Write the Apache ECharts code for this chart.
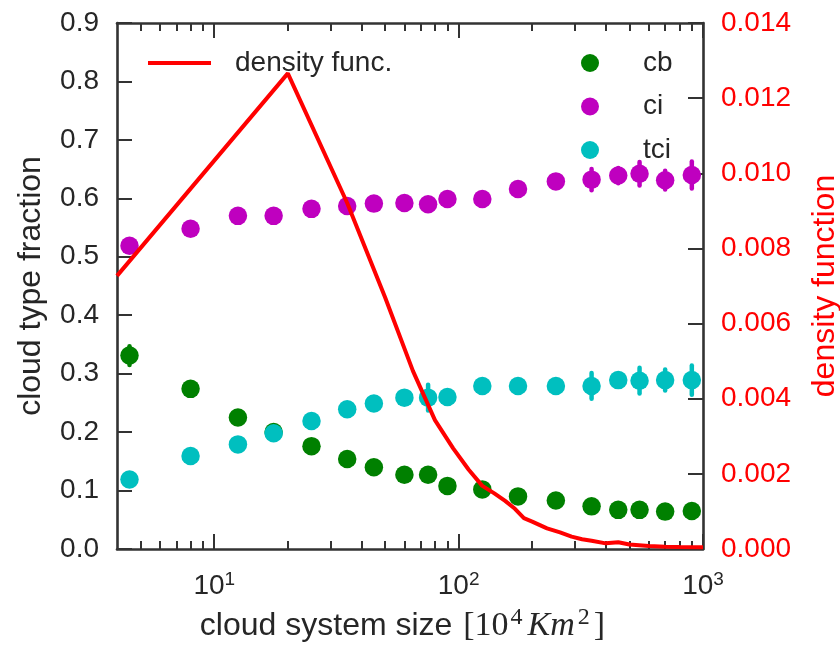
<!DOCTYPE html>
<html>
<head>
<meta charset="utf-8">
<script src="https://cdn.jsdelivr.net/npm/echarts@6/dist/echarts.min.js"></script>
<style>html,body{margin:0;padding:0;background:#fff;}#c{width:840px;height:645px;}</style>
</head>
<body>
<div id="c"></div>
<script>
// ---- data ----
const sizes = [4.5, 8, 12.5, 17.5, 25, 35, 45, 60, 75, 90, 125, 175, 250, 350, 450, 550, 700, 900];
const cb  = [0.331, 0.274, 0.225, 0.200, 0.176, 0.154, 0.140, 0.127, 0.127, 0.108, 0.102, 0.090, 0.083, 0.073, 0.067, 0.067, 0.064, 0.065];
const ci  = [0.519, 0.548, 0.570, 0.570, 0.582, 0.587, 0.591, 0.592, 0.590, 0.599, 0.599, 0.616, 0.629, 0.632, 0.639, 0.642, 0.631, 0.640];
const tci = [0.119, 0.159, 0.179, 0.198, 0.219, 0.239, 0.249, 0.259, 0.259, 0.260, 0.279, 0.279, 0.279, 0.279, 0.289, 0.288, 0.289, 0.289];
const cbErr  = [0.016, 0.008, 0.008, 0.008, 0.008, 0.008, 0.008, 0.008, 0.008, 0.008, 0.008, 0.008, 0.008, 0.008, 0.008, 0.008, 0.008, 0.008];
const ciErr  = [0.008, 0.008, 0.008, 0.008, 0.008, 0.008, 0.008, 0.008, 0.008, 0.008, 0.008, 0.008, 0.008, 0.018, 0.013, 0.020, 0.016, 0.023];
const tciErr = [0.008, 0.008, 0.008, 0.008, 0.008, 0.008, 0.008, 0.008, 0.022, 0.008, 0.008, 0.008, 0.008, 0.022, 0.011, 0.022, 0.018, 0.025];
const densX = [4, 20, 35, 50, 65, 80, 95, 110, 125, 140, 155, 170, 185, 200, 230, 260, 290, 320, 350, 400, 450, 500, 600, 700, 800, 1000];
const densY = [0.00727, 0.01266, 0.00921, 0.00670, 0.00474, 0.00343, 0.00268, 0.00211, 0.00168, 0.00148, 0.00128, 0.00107, 0.00082, 0.00073, 0.00055, 0.00044, 0.00033, 0.00026, 0.00022, 0.00015, 0.00018, 0.00012, 0.00008, 0.00006, 0.00005, 0.000045];
const majorTicks = [10, 100, 1000];
const minorTicks = [5, 6, 7, 8, 9, 20, 30, 40, 50, 60, 70, 80, 90, 200, 300, 400, 500, 600, 700, 800, 900];
const leftTicks = [0, 0.1, 0.2, 0.3, 0.4, 0.5, 0.6, 0.7, 0.8, 0.9];
const rightTicks = [0, 0.002, 0.004, 0.006, 0.008, 0.010, 0.012, 0.014];

// ---- styles ----
const SANS = "'Liberation Sans', Arial, sans-serif";
const SERIF = "'Liberation Serif', 'DejaVu Serif', serif";
const TXT = '#262626';
const SPINE = '#333333';
const C_CB = '#008000', C_CI = '#bf00bf', C_TCI = '#00bfbf', C_RED = '#ff0000';

const chart = echarts.init(document.getElementById('c'), null, {renderer: 'canvas'});

function pts(ys) { return sizes.map((x, i) => [x, ys[i]]); }
function errPts(ys, es) { return sizes.map((x, i) => [x, ys[i], es[i]]); }

function errSeries(name, ys, es, color) {
  return {
    name: name, type: 'custom', xAxisIndex: 0, yAxisIndex: 0, z: 2,
    data: errPts(ys, es), encode: {x: 0, y: 1}, silent: true, clip: true,
    renderItem: function (params, api) {
      const x = api.value(0), y = api.value(1), e = api.value(2);
      const p1 = api.coord([x, y + e]);
      const p2 = api.coord([x, y - e]);
      return {type: 'line', shape: {x1: p1[0], y1: p1[1], x2: p2[0], y2: p2[1]},
              style: {stroke: color, lineWidth: 4.5, lineCap: 'round'}};
    }
  };
}

function xAxisBase(pos, ticks, len, showLine, showLabel) {
  return {
    type: 'log', logBase: 10, min: 4, max: 1000, position: pos, gridIndex: 0,
    axisLine: {show: showLine, onZero: false, lineStyle: {color: SPINE, width: 2.6}},
    axisTick: {show: true, inside: true, length: len, customValues: ticks, lineStyle: {color: SPINE, width: 2}},
    axisLabel: showLabel ? {
      show: true, margin: 21, customValues: majorTicks,
      formatter: function (v) { return '{b|10}{s|' + Math.round(Math.log10(v)) + '}'; },
      rich: {
        b: {fontFamily: SANS, fontSize: 28, color: TXT, lineHeight: 32},
        s: {fontFamily: SANS, fontSize: 19, color: TXT, lineHeight: 20, verticalAlign: 'top'}
      }
    } : {show: false},
    splitLine: {show: false}, minorTick: {show: false}
  };
}

const xMain = xAxisBase('bottom', majorTicks, 15, true, true);
xMain.name = '{a|cloud system size }{m|[10}{s|4}{i|Km}{s|2}{r|]}';
xMain.nameLocation = 'middle';
xMain.nameGap = 57;
xMain.nameTextStyle = {
  padding: [0, 15, 0, 0],
  rich: {
    a: {fontFamily: SANS, fontSize: 32, color: TXT, lineHeight: 40},
    m: {fontFamily: SERIF, fontSize: 34, color: TXT, lineHeight: 40, padding: [0, 0, 0, 2]},
    r: {fontFamily: SERIF, fontSize: 34, color: TXT, lineHeight: 40, padding: [0, 0, 0, 2]},
    i: {fontFamily: SERIF, fontSize: 34, fontStyle: 'italic', color: TXT, lineHeight: 40, padding: [0, 1, 0, 3]},
    s: {fontFamily: SERIF, fontSize: 24, color: TXT, lineHeight: 14, verticalAlign: 'top', padding: [0, 2, 0, 2]}
  }
};

const option = {
  animation: false,
  backgroundColor: '#ffffff',
  grid: {left: 117, right: 137, top: 23, bottom: 96, containLabel: false, outerBoundsMode: 'none'},
  xAxis: [
    xMain,
    xAxisBase('bottom', minorTicks, 8, false, false),
    xAxisBase('top', majorTicks, 15, true, false),
    xAxisBase('top', minorTicks, 8, false, false)
  ],
  yAxis: [
    {
      type: 'value', min: 0, max: 0.9, interval: 0.1, position: 'left',
      name: 'cloud type fraction', nameLocation: 'middle', nameGap: 70, nameRotate: 90,
      nameTextStyle: {fontFamily: SANS, fontSize: 32, color: TXT},
      axisLine: {show: true, onZero: false, lineStyle: {color: SPINE, width: 2.6}},
      axisTick: {show: true, inside: true, length: 15, customValues: leftTicks, lineStyle: {color: SPINE, width: 2}},
      axisLabel: {show: true, margin: 18, fontFamily: SANS, fontSize: 28, color: TXT,
                  formatter: v => v.toFixed(1)},
      splitLine: {show: false}
    },
    {
      type: 'value', min: 0, max: 0.014, interval: 0.002, position: 'right',
      name: 'density function', nameLocation: 'middle', nameGap: 106, nameRotate: 90,
      nameTextStyle: {fontFamily: SANS, fontSize: 32, color: C_RED},
      axisLine: {show: true, onZero: false, lineStyle: {color: SPINE, width: 2.6}},
      axisTick: {show: true, inside: true, length: 15, customValues: rightTicks, lineStyle: {color: SPINE, width: 2}},
      axisLabel: {show: true, margin: 18, fontFamily: SANS, fontSize: 28, color: C_RED,
                  formatter: v => v.toFixed(3)},
      splitLine: {show: false}
    }
  ],
  legend: [
    {
      data: [{name: 'density func.', icon: 'rect'}], left: 143, top: 41, orient: 'vertical',
      itemWidth: 63, itemHeight: 4,
      textStyle: {fontFamily: SANS, fontSize: 28, color: TXT, padding: [0, 0, 0, 19], lineHeight: 34}
    },
    {
      data: ['cb', 'ci', 'tci'], left: 576, top: 41, orient: 'vertical',
      itemWidth: 18, itemHeight: 18, itemGap: 9.5, icon: 'circle',
      textStyle: {fontFamily: SANS, fontSize: 28, color: TXT, padding: [0, 0, 0, 39], lineHeight: 34}
    }
  ],
  series: [
    errSeries('cb_err', cb, cbErr, C_CB),
    {name: 'cb', type: 'scatter', xAxisIndex: 0, yAxisIndex: 0, z: 3, symbol: 'circle', symbolSize: 18.5,
     itemStyle: {color: C_CB, opacity: 1}, data: pts(cb)},
    errSeries('ci_err', ci, ciErr, C_CI),
    {name: 'ci', type: 'scatter', xAxisIndex: 0, yAxisIndex: 0, z: 3, symbol: 'circle', symbolSize: 18.5,
     itemStyle: {color: C_CI, opacity: 1}, data: pts(ci)},
    errSeries('tci_err', tci, tciErr, C_TCI),
    {name: 'tci', type: 'scatter', xAxisIndex: 0, yAxisIndex: 0, z: 3, symbol: 'circle', symbolSize: 18.5,
     itemStyle: {color: C_TCI, opacity: 1}, data: pts(tci)},
    {name: 'density func.', type: 'line', xAxisIndex: 0, yAxisIndex: 1, z: 5,
     showSymbol: false, symbol: 'none', clip: true, smooth: false,
     lineStyle: {color: C_RED, width: 4}, itemStyle: {color: C_RED},
     data: densX.map((x, i) => [x, densY[i]])}
  ]
};
chart.setOption(option);
</script>
</body>
</html>
